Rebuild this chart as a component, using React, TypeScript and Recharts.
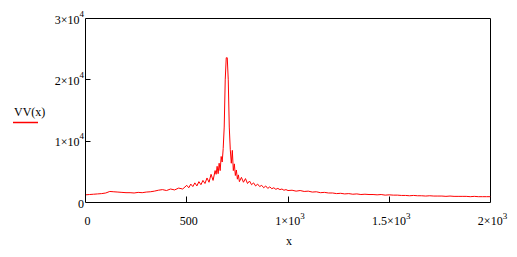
import React from 'react';
import { LineChart, Line, XAxis, YAxis, ReferenceLine } from 'recharts';

const xValues = [
  0, 20, 40, 60, 80, 100, 120, 140, 160, 180, 200, 220, 240, 260, 280, 300, 320, 340, 360, 380, 400, 420, 440, 460, 480,
  500, 510, 520, 530, 540, 550, 560, 570, 580, 590, 600, 610, 620, 630, 640,
  645, 650, 655, 660, 665, 670, 675, 680, 685, 690, 695, 700, 705, 710, 715, 720, 725, 730, 735, 740, 745, 750, 755, 760,
  770, 780, 790, 800, 810, 820, 830, 840, 850, 860, 870, 880, 890, 900, 910, 920, 930, 940, 950, 960, 970, 980, 990, 1000,
  1020, 1040, 1060, 1080, 1100, 1120, 1140, 1160, 1180, 1200, 1220, 1240, 1260, 1280, 1300, 1320, 1340, 1360, 1380, 1400,
  1420, 1440, 1460, 1480, 1500, 1520, 1540, 1560, 1580, 1600, 1620, 1640, 1660, 1680, 1700, 1720, 1740, 1760, 1780, 1800,
  1820, 1840, 1860, 1880, 1900, 1920, 1940, 1960, 1980, 2000,
];

const vvValues = [
  1250, 1300, 1350, 1400, 1450, 1550, 1800, 1750, 1700, 1650, 1600, 1600, 1550, 1650, 1600, 1700, 1750, 1850, 2000, 2100, 1950, 2200, 2050, 2350, 2200,
  2800, 2400, 3000, 2600, 3200, 2700, 3400, 2900, 3600, 3100, 4000, 3300, 4600, 3600, 5200,
  4600, 5900, 4700, 6400, 5200, 7500, 6600, 8800, 12300, 20000, 23600, 23600, 20000, 12300, 8600, 6400, 8500, 5200, 6300, 4400, 5300, 3800, 4500, 3400,
  4100, 3300, 3900, 3100, 3500, 2900, 3200, 2700, 3000, 2600, 2800, 2400, 2700, 2300, 2550, 2250, 2400, 2150, 2300, 2100, 2200, 2000, 2100, 1950,
  2000, 1850, 1950, 1800, 1850, 1700, 1750, 1600, 1650, 1550, 1550, 1450, 1500, 1400, 1450, 1350, 1400, 1300, 1350, 1300,
  1300, 1250, 1300, 1200, 1250, 1200, 1200, 1150, 1150, 1100, 1150, 1100, 1100, 1050, 1100, 1050, 1050, 1050, 1000, 1050,
  1000, 1000, 1000, 1000, 950, 1000, 950, 950, 950, 950,
];

const xTicks = [0, 500, 1000, 1500, 2000];
const xTickBase = ['0', '500', '1×10', '1.5×10', '2×10'];
const xTickExp = ['', '', '3', '3', '3'];
const yTicks = [0, 10000, 20000, 30000];
const yTickBase = ['0', '1×10', '2×10', '3×10'];
const yTickExp = ['', '4', '4', '4'];
const seriesName = 'VV(x)';
const xAxisTitle = 'x';

const data = xValues.map((x, i) => ({ x, vv: vvValues[i] }));

const FONT = '"Liberation Serif", "Times New Roman", serif';

const XTick = (props: any) => {
  const { x, y, payload } = props;
  const i = xTicks.indexOf(payload.value);
  const px = Math.floor(x) + 0.5;
  const inner = i > 0 && i < xTicks.length - 1;
  return (
    <g>
      {inner && <line x1={px} x2={px} y1={y} y2={y - 6} stroke="#000" strokeWidth={1} />}
      <text x={x + 2} y={y + 22} textAnchor="middle" fontFamily={FONT} fontSize={12} fill="#000">
        {xTickBase[i]}
        {xTickExp[i] && (
          <tspan dy={-6} fontSize={9}>
            {xTickExp[i]}
          </tspan>
        )}
      </text>
    </g>
  );
};

const YTick = (props: any) => {
  const { x, y, payload } = props;
  const i = yTicks.indexOf(payload.value);
  const py = Math.round(y - 0.5) + 0.5;
  const inner = i > 0 && i < yTicks.length - 1;
  return (
    <g>
      {inner && <line x1={x} x2={x + 5} y1={py} y2={py} stroke="#000" strokeWidth={1} />}
      <text x={x - 1.5} y={y + 5} textAnchor="end" fontFamily={FONT} fontSize={12} fill="#000">
        {yTickBase[i]}
        {yTickExp[i] && (
          <tspan dy={-7} fontSize={9}>
            {yTickExp[i]}
          </tspan>
        )}
      </text>
    </g>
  );
};

const XTitle = (props: any) => {
  const { viewBox } = props;
  const cx = viewBox.x + viewBox.width / 2 + 1;
  return (
    <text x={cx} y={viewBox.y + 42} textAnchor="middle" fontFamily={FONT} fontSize={12} fill="#000">
      {xAxisTitle}
    </text>
  );
};

export default function App() {
  return (
    <div style={{ position: 'absolute', left: 0, top: 0, width: 517, height: 257, background: '#fff' }}>
      <LineChart
        width={517}
        height={257}
        data={data}
        margin={{ top: 18.5, left: 84.5, right: 26.5, bottom: 53.5 }}
      >
        <XAxis
          dataKey="x"
          type="number"
          domain={[0, 2000]}
          ticks={xTicks}
          height={1}
          tickSize={0}
          tickMargin={0}
          tickLine={false}
          axisLine={{ stroke: '#000', strokeWidth: 1 }}
          tick={<XTick />}
          interval={0}
          allowDataOverflow
          label={<XTitle />}
        />
        <YAxis
          type="number"
          domain={[0, 30000]}
          ticks={yTicks}
          width={1}
          tickSize={0}
          tickMargin={0}
          tickLine={false}
          axisLine={{ stroke: '#000', strokeWidth: 1 }}
          tick={<YTick />}
          interval={0}
          allowDataOverflow
        />
        <ReferenceLine y={30000} stroke="#000" strokeWidth={1} ifOverflow="visible" />
        <ReferenceLine x={2000} stroke="#000" strokeWidth={1} ifOverflow="visible" />
        <Line
          type="linear"
          dataKey="vv"
          name={seriesName}
          stroke="#ff0000"
          strokeWidth={1}
          dot={false}
          activeDot={false}
          isAnimationActive={false}
        />
      </LineChart>
      <svg
        width={60}
        height={40}
        style={{ position: 'absolute', left: 0, top: 95 }}
      >
        <text x={14} y={21} fontFamily={FONT} fontSize={12} fill="#000">
          {seriesName}
        </text>
        <line x1={13} x2={38} y1={27.5} y2={27.5} stroke="#ff0000" strokeWidth={1.5} />
      </svg>
    </div>
  );
}
